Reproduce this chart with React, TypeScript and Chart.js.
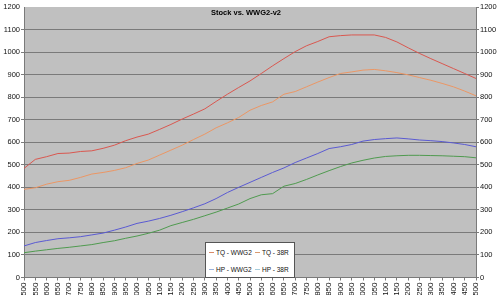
import React, { useEffect, useRef } from "react";
import { Chart, registerables } from "chart.js";

Chart.register(...registerables);

const rpm: string[] = [
  "1500","1550","1600","1650","1700","1750","1800","1850","1900","1950",
  "2000","2050","2100","2150","2200","2250","2300","2350","2400","2450",
  "2500","2550","2600","2650","2700","2750","2800","2850","2900","2950",
  "3000","3050","3100","3150","3200","3250","3300","3350","3400","3450","3500",
];

const tqWWG2: number[] = [
  484, 524, 536, 550, 552, 559, 562, 573, 587, 607,
  623, 636, 657, 679, 703, 725, 748, 781, 813, 843,
  872, 905, 939, 971, 1002, 1028, 1047, 1068, 1073, 1076,
  1076, 1076, 1065, 1045, 1019, 994, 971, 949, 927, 905, 883,
];

const tq38R: number[] = [
  391, 398, 414, 425, 431, 444, 459, 466, 475, 487,
  506, 521, 543, 565, 587, 612, 636, 664, 686, 710,
  742, 763, 779, 813, 825, 846, 867, 887, 905, 912,
  920, 923, 917, 909, 899, 887, 875, 861, 846, 827, 806,
];

const hpWWG2: number[] = [
  140, 155, 164, 172, 176, 181, 189, 197, 210, 224,
  240, 250, 262, 276, 292, 309, 327, 350, 377, 400,
  422, 444, 466, 486, 510, 530, 550, 572, 580, 590,
  605, 612, 616, 619, 615, 610, 607, 603, 597, 590, 580,
];

const hp38R: number[] = [
  110, 117, 123, 129, 134, 140, 146, 155, 163, 174,
  184, 196, 210, 230, 244, 258, 274, 290, 308, 326,
  350, 367, 372, 405, 417, 435, 455, 474, 492, 508,
  520, 530, 537, 540, 542, 542, 541, 540, 538, 536, 531,
];

const seriesNames: string[] = ["TQ - WWG2", "TQ - 38R", "HP - WWG2", "HP - 38R"];
const lineColors: string[] = ["#d9574f", "#eb9664", "#5a5ad2", "#4f9a4f"];
const legendColors: string[] = ["#d98a68", "#d99a70", "#9ab2dc", "#a6cddc"];
const titleText = "Stock vs. WWG2-v2";

const FONT = '"Liberation Sans", Arial, sans-serif';

export default function App() {
  const canvasRef = useRef<HTMLCanvasElement | null>(null);

  useEffect(() => {
    const canvas = canvasRef.current;
    if (!canvas) return;

    const bgPlugin = {
      id: "bgPlugin",
      beforeDraw(chart: any) {
        const { ctx, chartArea } = chart;
        ctx.save();
        ctx.fillStyle = "#ffffff";
        ctx.fillRect(0, 0, chart.width, chart.height);
        ctx.fillStyle = "#c0c0c0";
        ctx.fillRect(chartArea.left, chartArea.top, chartArea.right - chartArea.left, chartArea.bottom - chartArea.top);
        ctx.restore();
      },
      afterDatasetsDraw(chart: any) {
        const { ctx } = chart;
        ctx.save();
        ctx.font = "bold 7.5px " + FONT;
        ctx.fillStyle = "#000";
        ctx.textAlign = "center";
        ctx.textBaseline = "middle";
        ctx.fillText(titleText, 246, 13);
        ctx.restore();
      },
    };

    const gridColor = (c: any) => (c.tick && c.tick.value === 1200 ? "rgba(0,0,0,0)" : "#7a7a7a");
    const plain = (v: any) => String(v);

    const data = [tqWWG2, tq38R, hpWWG2, hp38R];
    const chart = new Chart(canvas, {
      type: "line",
      data: {
        labels: rpm,
        datasets: data.map((d, i) => ({
          label: seriesNames[i],
          data: d,
          borderColor: lineColors[i],
          backgroundColor: lineColors[i],
          borderWidth: 1,
          pointRadius: 0,
          tension: 0,
          fill: false,
        })),
      },
      options: {
        animation: false,
        responsive: false,
        devicePixelRatio: 1,
        layout: { padding: { top: 7, left: 0, right: 0, bottom: 0 } },
        plugins: {
          legend: { display: false },
          title: { display: false },
          tooltip: { enabled: false },
        },
        scales: {
          x: {
            type: "category",
            offset: false,
            grid: { drawOnChartArea: false, drawTicks: true, tickLength: 3, color: "#7a7a7a" },
            border: { display: true, color: "#7a7a7a" },
            ticks: {
              autoSkip: false,
              minRotation: 90,
              maxRotation: 90,
              padding: 2,
              color: "#111",
              font: { size: 8, family: FONT },
            },
            afterFit: (s: any) => {
              s.height = 17.5;
            },
          },
          y: {
            position: "left",
            min: 0,
            max: 1200,
            grid: { color: gridColor, tickLength: 3, lineWidth: 1 },
            border: { display: true, color: "#7a7a7a" },
            ticks: { stepSize: 50, padding: 1, color: "#111", font: { size: 7.5, family: FONT }, callback: plain },
            afterFit: (s: any) => {
              s.width = 24;
            },
          },
          y1: {
            position: "right",
            min: 0,
            max: 1200,
            grid: { drawOnChartArea: false, tickLength: 3, color: "#7a7a7a" },
            border: { display: true, color: "#7a7a7a" },
            ticks: { stepSize: 50, padding: 1, color: "#111", font: { size: 7.5, family: FONT }, callback: plain },
            afterFit: (s: any) => {
              s.width = 24;
            },
          },
        },
      } as any,
      plugins: [bgPlugin],
    });

    return () => chart.destroy();
  }, []);

  const legendPos = [
    { left: 3, top: 9 },
    { left: 49, top: 9 },
    { left: 3, top: 26 },
    { left: 49, top: 26 },
  ];

  return (
    <div style={{ position: "absolute", left: 0, top: 0, width: 500, height: 295, background: "#fff", overflow: "hidden" }}>
      <canvas ref={canvasRef} width={500} height={295} style={{ display: "block", width: 500, height: 295 }} />
      <div
        style={{
          position: "absolute",
          left: 205,
          top: 242,
          width: 90,
          height: 36,
          background: "#fff",
          border: "1px solid #555",
          boxSizing: "border-box",
          fontFamily: FONT,
          fontSize: 6.5,
          color: "#111",
        }}
      >
        {seriesNames.map((name, i) => (
          <div
            key={name}
            style={{
              position: "absolute",
              left: legendPos[i].left,
              top: legendPos[i].top - 5,
              height: 10,
              display: "flex",
              alignItems: "center",
              whiteSpace: "nowrap",
            }}
          >
            <span style={{ display: "inline-block", width: 5, height: 1, background: legendColors[i], marginRight: 2 }} />
            <span>{name}</span>
          </div>
        ))}
      </div>
    </div>
  );
}
